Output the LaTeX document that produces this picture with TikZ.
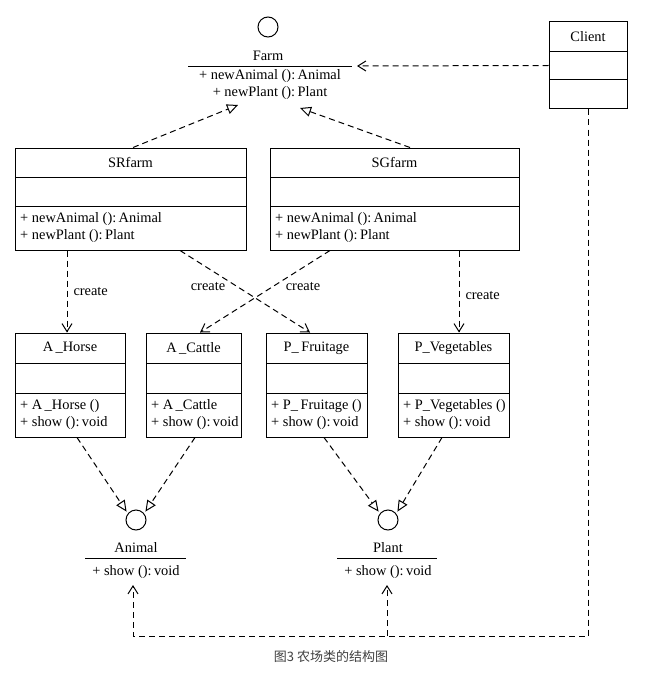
\documentclass[tikz,border=0pt]{standalone}
\usepackage{fontspec}
\setmainfont{Liberation Serif}
\newfontfamily\cjk{Noto Sans CJK SC}
\usetikzlibrary{arrows.meta,fit,calc}

\tikzset{
  clsframe/.style={draw, inner sep=0pt, line width=1pt},
  clsline/.style={line width=1pt},
  clstext/.style={font=\fontsize{14.4}{17}\selectfont, inner sep=0pt},
  dep/.style={line width=1pt, dash pattern=on 6pt off 4pt, -{Straight Barb[length=8pt,width=10pt]}},
  real/.style={line width=1pt, dash pattern=on 6pt off 4pt, -{Triangle[open,length=11pt,width=10pt]}},
  iface/.style={draw, circle, minimum size=20pt, inner sep=0pt, line width=1pt},
}

% name, left, top, right, bottom, line1, line2, title, operations
\newcommand{\clsbox}[9]{%
  \node[clsframe, fit={(#2,#3) (#4,#5)}] (#1) {};
  \draw[clsline] (#2,#6) -- (#4,#6);
  \draw[clsline] (#2,#7) -- (#4,#7);
  \node[clstext] (#1-title) at ({(#2+#4)/2},{(#3+#6)/2}) {#8};
  \node[clstext, anchor=west, align=left] (#1-ops) at ({#2+5},{(#7+#5)/2}) {#9};
}

\begin{document}
\begin{tikzpicture}[x=1pt,y=-1pt]
\useasboundingbox (0,0) rectangle (663,682);

% ---- Farm interface
\node[iface] (farmc) at (268,27) {};
\node[clstext] (farm) at (268,56) {Farm};
\draw[clsline] (188,67) -- (352,67);
\node[clstext, align=center] (farm-ops) at (270,84.5) {+ newAnimal ():\,Animal\\+ newPlant ():\,Plant};

% ---- Client
\clsbox{client}{549}{22}{627}{109}{52}{80}{Client}{}

% ---- concrete farms
\clsbox{srfarm}{15}{148}{246}{250}{177}{206}{SRfarm}{+ newAnimal ():\,Animal\\+ newPlant ():\,Plant}
\clsbox{sgfarm}{270}{148}{519}{250}{177}{206}{SGfarm}{+ newAnimal ():\,Animal\\+ newPlant ():\,Plant}

% ---- products
\clsbox{horse}{15}{333}{125}{437}{363}{393}{A\,\_Horse}{+ A\,\_Horse ()\\+ show ():\,void}
\clsbox{cattle}{146}{333}{241}{437}{363}{393}{A\,\_Cattle}{+ A\,\_Cattle\\+ show ():\,void}
\clsbox{fruit}{266}{333}{367}{437}{363}{393}{P\_\,Fruitage}{+ P\_\,Fruitage ()\\+ show ():\,void}
\clsbox{veg}{398}{333}{509}{437}{363}{393}{P\_Vegetables}{+ P\_Vegetables ()\\+ show ():\,void}

% ---- Animal / Plant interfaces
\node[iface] (animc) at (136,520) {};
\node[clstext] (animal) at (136,548) {Animal};
\draw[clsline] (85,558) -- (186,558);
\node[clstext] (animal-ops) at (136,572) {+ show ():\,void};

\node[iface] (plantc) at (388,520) {};
\node[clstext] (plant) at (388,548) {Plant};
\draw[clsline] (337,558) -- (437,558);
\node[clstext] (plant-ops) at (388,572) {+ show ():\,void};

% ---- realization arrows to Farm
\coordinate (farmL) at (238,105);
\coordinate (farmR) at (300,108);
\draw[real] ([xshift=2.5pt]srfarm.north) -- (farmL);
\draw[real] ([xshift=15.5pt]sgfarm.north) -- (farmR);

% ---- Client uses Farm
\coordinate (farmdep) at (357,66);
\draw[dep] (client.west) -- (farmdep);

% ---- create dependencies
\draw[dep] ([xshift=-63.5pt]srfarm.south) -- ([xshift=-3pt]horse.north)
  node[clstext, pos=0.5, right=6pt] (c1) {create};
\draw[dep] ([xshift=49.5pt]srfarm.south) -- ([xshift=-6.5pt]fruit.north);
\draw[dep] ([xshift=-64.5pt]sgfarm.south) -- ([xshift=6.5pt]cattle.north);
\node[clstext] (c2) at (208,287) {create};
\node[clstext] (c3) at (303,287) {create};
\draw[dep] ([xshift=64.5pt]sgfarm.south) -- ([xshift=5.5pt]veg.north)
  node[clstext, pos=0.55, right=6pt] (c4) {create};

% ---- realization arrows to Animal / Plant
\draw[real] ([xshift=7pt]horse.south) -- ([shift={(-2pt,1pt)}]animc.north west);
\draw[real] ([xshift=1.5pt]cattle.south) -- ([shift={(2pt,1pt)}]animc.north east);
\draw[real] ([xshift=7.5pt]fruit.south) -- ([shift={(-2pt,1pt)}]plantc.north west);
\draw[real] ([xshift=-11.5pt]veg.south) -- ([shift={(2pt,1pt)}]plantc.north east);

% ---- Client uses Animal and Plant
\coordinate (animtip) at (133,585);
\coordinate (planttip) at (387,585);
\coordinate (cornerA) at (133,636);
\coordinate (branchP) at (387,636);
\draw[dep] (client.south) |- (cornerA) -- (animtip);
\draw[dep] (branchP) -- (planttip);

% ---- caption
\node[font=\cjk\fontsize{13}{15}\selectfont, text=black!75, inner sep=0pt] (caption) at (331,657) {图3 农场类的结构图};
\end{tikzpicture}
\end{document}
